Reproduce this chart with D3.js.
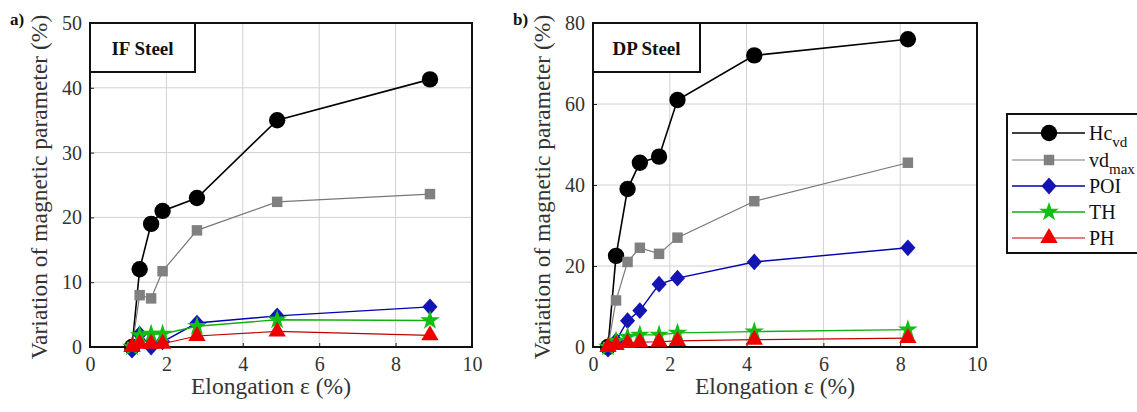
<!DOCTYPE html>
<html>
<head>
<meta charset="utf-8">
<script src="https://cdn.jsdelivr.net/npm/d3@7"></script>
<style>
  body { margin: 0; background: #fff; }
  svg, svg text { font-family: "Liberation Serif", "DejaVu Serif", serif !important; }
</style>
</head>
<body>
<svg id="chart" width="1137" height="412"></svg>
<script>
// series names and legend
const seriesNames = ["Hc", "vdmax", "POI", "TH", "PH"];

// IF steel (panel a)
const ifElong = [1.1, 1.3, 1.6, 1.9, 2.8, 4.9, 8.9];
const ifHc    = [0, 12, 19, 21, 23, 35, 41.3];
const ifVd    = [0, 8, 7.5, 11.7, 18, 22.4, 23.6];
const ifPOI   = [-0.5, 2, 0, 0.8, 3.7, 4.8, 6.2];
const ifTH    = [0, 1.8, 2, 2, 3.2, 4.2, 4.1];
const ifPH    = [0, 0.5, 0.5, 0.5, 1.7, 2.4, 1.8];

// DP steel (panel b)
const dpElong = [0.39, 0.6, 0.9, 1.22, 1.72, 2.2, 4.2, 8.2];
const dpHc    = [0, 22.5, 39, 45.5, 47, 61, 72, 76];
const dpVd    = [0, 11.5, 21, 24.5, 23, 27, 36, 45.5];
const dpPOI   = [-0.5, 1.5, 6.5, 9, 15.5, 17, 21, 24.5];
const dpTH    = [0, 1.5, 2.5, 3, 3, 3.5, 3.8, 4.3];
const dpPH    = [0, 0.5, 1, 1.2, 1.3, 1.5, 1.8, 2.2];

const xTicks = [0, 2, 4, 6, 8, 10];
const ifYTicks = [0, 10, 20, 30, 40, 50];
const dpYTicks = [0, 20, 40, 60, 80];

// diamond drawn as a rotated square (wider than d3's diamond)
const diamond = { draw(ctx, size) { const r = Math.sqrt(size) / 1.6; ctx.moveTo(0, -r); ctx.lineTo(r * 0.9, 0); ctx.lineTo(0, r); ctx.lineTo(-r * 0.9, 0); ctx.closePath(); } };

const style = {
  Hc:    { line: "#000", width: 1.6, fill: "#000", sym: d3.symbolCircle, size: 210 },
  vdmax: { line: "#777", width: 1.2, fill: "#808080", sym: d3.symbolSquare, size: 110 },
  POI:   { line: "#0000b0", width: 1.4, fill: "#1414b4", sym: diamond, size: 180 },
  TH:    { line: "#10b010", width: 1.4, fill: "#10c010", sym: d3.symbolStar, size: 120 },
  PH:    { line: "#c00000", width: 1.2, fill: "#ee0000", sym: d3.symbolTriangle, size: 130 }
};

const FONT = "Liberation Serif, DejaVu Serif, serif";
const svg = d3.select("#chart");

function panel(opts) {
  const { left, right, top, bottom, yMax, yTicks, elong, series, label, title } = opts;
  const x = d3.scaleLinear().domain([0, 10]).range([left, right]);
  const y = d3.scaleLinear().domain([0, yMax]).range([bottom, top]);
  const g = svg.append("g");

  // grid
  g.selectAll(".gx").data(xTicks.slice(1, -1)).enter().append("line")
    .attr("x1", d => x(d)).attr("x2", d => x(d)).attr("y1", top).attr("y2", bottom)
    .attr("stroke", "#d0d0d0").attr("stroke-width", 1);
  g.selectAll(".gy").data(yTicks.slice(1, -1)).enter().append("line")
    .attr("y1", d => y(d)).attr("y2", d => y(d)).attr("x1", left).attr("x2", right)
    .attr("stroke", "#d0d0d0").attr("stroke-width", 1);

  // axes
  const xAxis = g.append("g").attr("transform", `translate(0,${bottom})`)
    .call(d3.axisBottom(x).tickValues(xTicks).tickSize(-4).tickPadding(10));
  const yAxis = g.append("g").attr("transform", `translate(${left},0)`)
    .call(d3.axisLeft(y).tickValues(yTicks).tickSize(-4).tickPadding(8));
  [xAxis, yAxis].forEach(a => {
    a.attr("font-family", FONT);
    a.select(".domain").remove();
    a.selectAll("line").attr("stroke", "#222");
    a.selectAll("text").attr("font-size", 20).attr("fill", "#333");
  });

  // frame
  g.append("rect").attr("x", left).attr("y", top).attr("width", right - left).attr("height", bottom - top)
    .attr("fill", "none").attr("stroke", "#111").attr("stroke-width", 2);

  // series
  const line = d3.line().x(d => x(d[0])).y(d => y(d[1]));
  seriesNames.forEach((name, i) => {
    const pts = elong.map((e, j) => [e, series[i][j]]);
    const s = style[name];
    g.append("path").datum(pts).attr("d", line)
      .attr("fill", "none").attr("stroke", s.line).attr("stroke-width", s.width);
    g.selectAll(`.m-${name}`).data(pts).enter().append("path")
      .attr("d", d3.symbol().type(s.sym).size(s.size))
      .attr("transform", d => `translate(${x(d[0])},${y(d[1])})`)
      .attr("fill", s.fill);
  });

  // title box
  g.append("rect").attr("x", left).attr("y", top).attr("width", opts.boxW).attr("height", 49)
    .attr("fill", "#fff").attr("stroke", "#111").attr("stroke-width", 2);
  g.append("text").attr("x", left + opts.boxW / 2).attr("y", top + 32)
    .attr("text-anchor", "middle").attr("font-weight", "bold").attr("font-size", 19)
    .attr("fill", "#111").text(title);

  // labels
  g.append("text").attr("x", left - 80).attr("y", top + 2)
    .attr("font-weight", "bold").attr("font-size", 17).attr("fill", "#111").text(label);
  g.append("text").attr("transform", `translate(${left - 43},${(top + bottom) / 2 + 2}) rotate(-90)`)
    .attr("text-anchor", "middle").attr("font-size", 23.5).attr("fill", "#333")
    .text("Variation of magnetic parameter (%)");
  g.append("text").attr("x", (left + right) / 2 - 10).attr("y", 394)
    .attr("text-anchor", "middle").attr("font-size", 23.5).attr("fill", "#333")
    .text("Elongation \u03B5 (%)");
}

panel({ left: 90, right: 472, top: 23, bottom: 347, yMax: 50, yTicks: ifYTicks, elong: ifElong,
  series: [ifHc, ifVd, ifPOI, ifTH, ifPH], label: "a)", title: "IF Steel", boxW: 105 });
panel({ left: 593, right: 977, top: 23, bottom: 347, yMax: 80, yTicks: dpYTicks, elong: dpElong,
  series: [dpHc, dpVd, dpPOI, dpTH, dpPH], label: "b)", title: "DP Steel", boxW: 107 });

// legend
const lg = svg.append("g");
lg.append("rect").attr("x", 1007).attr("y", 114).attr("width", 150).attr("height", 139)
  .attr("fill", "#fff").attr("stroke", "#111").attr("stroke-width", 2);
const legendY = [133, 160, 186, 212, 238];
const legendMain = ["Hc", "vd", "POI", "TH", "PH"];
const legendSub = ["vd", "max", "", "", ""];
seriesNames.forEach((name, i) => {
  const s = style[name];
  const yy = legendY[i];
  lg.append("line").attr("x1", 1012).attr("x2", 1085).attr("y1", yy).attr("y2", yy)
    .attr("stroke", s.line).attr("stroke-width", s.width);
  lg.append("path").attr("d", d3.symbol().type(s.sym).size(s.size)())
    .attr("transform", `translate(1049,${yy})`).attr("fill", s.fill);
  const t = lg.append("text").attr("x", 1089).attr("y", yy + 7).attr("font-size", 20).attr("fill", "#111");
  t.append("tspan").text(legendMain[i]);
  if (legendSub[i]) t.append("tspan").attr("font-size", 15).attr("dy", 7).text(legendSub[i]);
});
</script>
</body>
</html>
